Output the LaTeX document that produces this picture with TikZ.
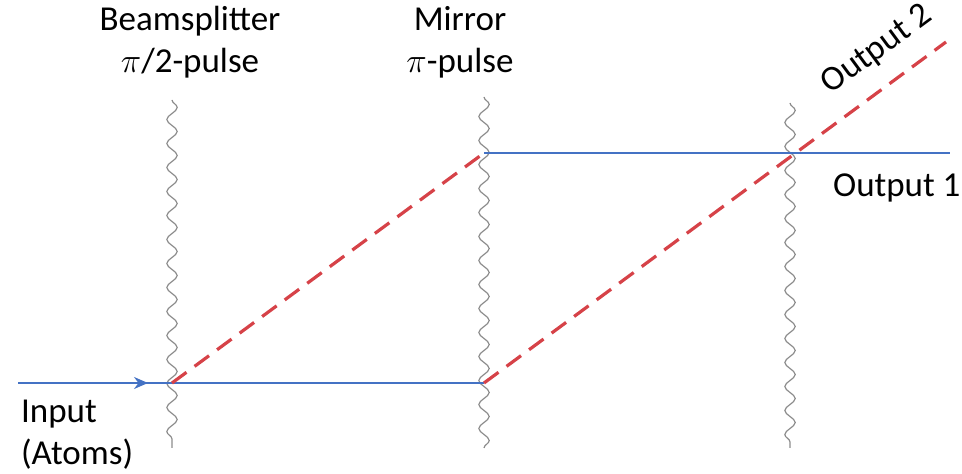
\documentclass[tikz,border=0pt]{standalone}
\usepackage{fontspec}
\setmainfont{Carlito}
\usepackage{tikz}
\usetikzlibrary{arrows.meta,decorations.pathmorphing,positioning}
\definecolor{beamblue}{RGB}{68,114,196}
\definecolor{beamred}{RGB}{214,66,72}
\definecolor{pulsegray}{RGB}{140,140,140}

\begin{document}
\begin{tikzpicture}[
  x=0.5pt, y=-0.5pt,
  every node/.style={font=\fontsize{17.5}{21}\selectfont},
  beam/.style={draw=beamblue, line width=1pt},
  split/.style={draw=beamred, line width=1.6pt, dash pattern=on 9pt off 5pt},
  pulse/.style={draw=pulsegray, line width=0.6pt,
                decorate, decoration={snake, amplitude=2.6pt, segment length=12pt}},
  label/.style={align=center},
]
\useasboundingbox (0,0) rectangle (962,474);

%% ── Interaction points ────────────────────────────────────────────────────
\coordinate (in)    at (18,383);
\coordinate (tip)   at (148,383);
\coordinate (bs)    at (172,383);
\coordinate (mlow)  at (484,383);
\coordinate (mup)   at (484,153);
\coordinate (cross) at (790,153);
\coordinate (out1)  at (950,153);
\coordinate (out2)  at (946,42);

%% ── Light pulses ──────────────────────────────────────────────────────────
\coordinate (bstop) at (172,100);  \coordinate (bsbot) at (172,448);
\coordinate (mtop)  at (484,97);   \coordinate (mbot)  at (484,448);
\coordinate (rtop)  at (790,103);  \coordinate (rbot)  at (790,448);
\draw[pulse] (bstop) -- (bsbot);
\draw[pulse] (mtop) -- (mbot);
\draw[pulse] (rtop) -- (rbot);

%% ── Atom paths ────────────────────────────────────────────────────────────
\draw[beam] (in) -- (bs) -- (mlow);
\draw[beam, -{Stealth[length=7pt,width=6pt]}] (in) -- (tip);
\draw[beam] (mup) -- (out1);
\draw[split] (bs) -- (mup);
\draw[split] (mlow) -- (out2);

%% ── Labels ────────────────────────────────────────────────────────────────
\node[label] (bslab) at (190,42) {Beamsplitter\\$\pi$/2-pulse};
\node[label] (mlab)  at (460,42) {Mirror\\$\pi$-pulse};
\node[anchor=west] (o1lab) at (826,188) {Output 1};
\node[rotate=36.4] (o2lab) at (877,50) {Output 2};
\node[align=left, anchor=north west] (inlab) at (14,393) {Input\\(Atoms)};

\end{tikzpicture}
\end{document}
